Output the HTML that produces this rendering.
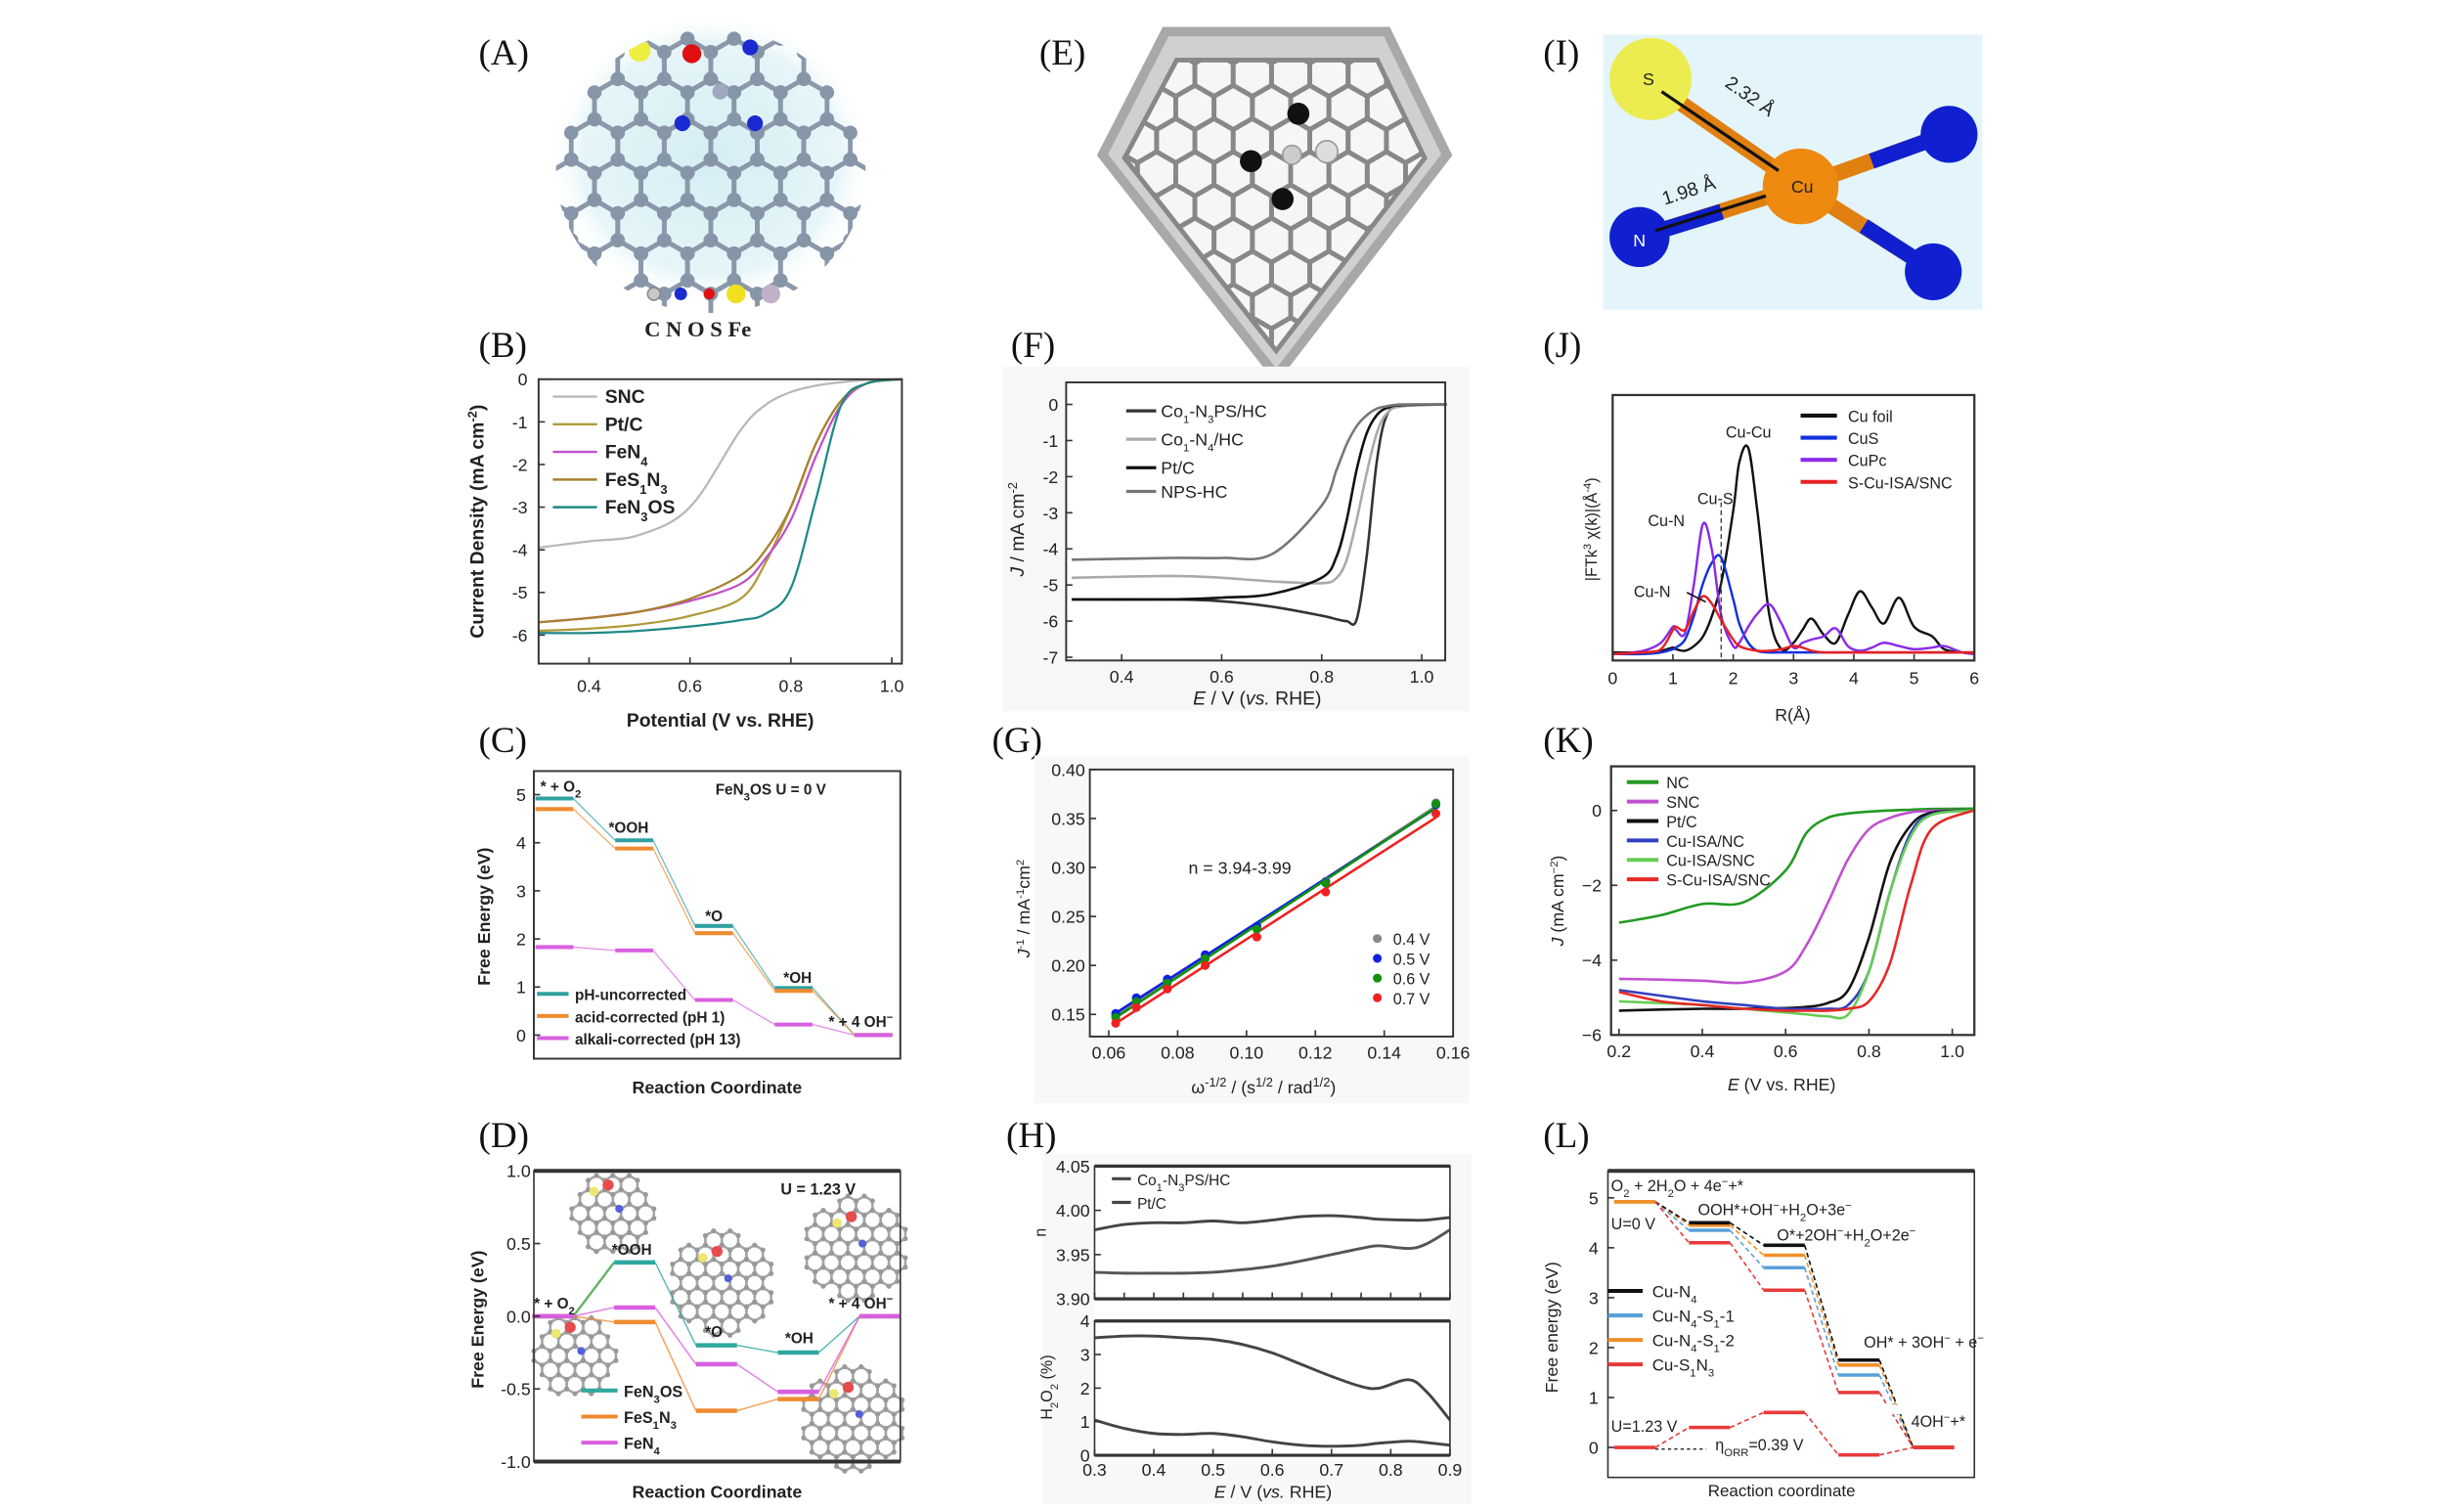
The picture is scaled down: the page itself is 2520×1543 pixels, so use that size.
<!DOCTYPE html>
<html><head><meta charset="utf-8">
<style>
html,body{margin:0;padding:0;background:#fff;}
svg{display:block;}
text{font-family:"Liberation Sans",sans-serif;fill:#222;}
.lbl{font-family:"Liberation Serif",serif;font-size:23px;fill:#111;}
</style></head>
<body>
<svg id="fig" xmlns="http://www.w3.org/2000/svg" width="2520" height="1543" viewBox="0 0 1560 955" preserveAspectRatio="none">
<defs>
<radialGradient id="glowA" cx="50%" cy="50%" r="50%"><stop offset="0%" stop-color="#d4eef4"/><stop offset="80%" stop-color="#e6f5f8"/><stop offset="100%" stop-color="#ffffff" stop-opacity="0"/></radialGradient>
<clipPath id="clipA"><ellipse cx="450" cy="108" rx="98" ry="90"/></clipPath>
<clipPath id="clipE"><polygon points="712,100 745,38 872,38 902,100 808,222"/></clipPath>
</defs>
<g>
<text class="lbl" x="303" y="41">(A)</text>
<text class="lbl" x="658" y="41">(E)</text>
<text class="lbl" x="977" y="41">(I)</text>
<text class="lbl" x="303" y="226">(B)</text>
<text class="lbl" x="640" y="226">(F)</text>
<text class="lbl" x="977" y="226">(J)</text>
<text class="lbl" x="303" y="476">(C)</text>
<text class="lbl" x="628" y="476">(G)</text>
<text class="lbl" x="977" y="476">(K)</text>
<text class="lbl" x="303" y="726">(D)</text>
<text class="lbl" x="637" y="726">(H)</text>
<text class="lbl" x="977" y="726">(L)</text>
</g>
<g id="pA">
<ellipse cx="450" cy="100" rx="102" ry="92" fill="url(#glowA)"/>
<g id="latA" clip-path="url(#clipA)"></g>
<circle cx="414" cy="186" r="4" fill="#c8c8c8" stroke="#888"/>
<circle cx="431" cy="186" r="4" fill="#1a2ad0"/>
<circle cx="449" cy="186" r="3.5" fill="#e01010"/>
<circle cx="466" cy="186" r="6" fill="#f0e020"/>
<circle cx="488" cy="186" r="6" fill="#c0b0c8"/>
<text x="408" y="213" style="font-family:'Liberation Serif',serif;font-weight:bold;font-size:14px">C N O S Fe</text>
</g>
<g id="pE">
<polygon points="698,98 738,20 878,20 916,98 808,238" fill="#d0d0d0" stroke="#a8a8a8" stroke-width="6"/>
<polygon points="712,100 745,38 872,38 902,100 808,222" fill="#f6f6f6" stroke="#888" stroke-width="3"/>
<g id="latE" clip-path="url(#clipE)"></g>
<circle cx="822" cy="72" r="7" fill="#111"/>
<circle cx="792" cy="102" r="7" fill="#111"/>
<circle cx="812" cy="126" r="7" fill="#111"/>
<circle cx="840" cy="96" r="7" fill="#ddd" stroke="#999"/>
<circle cx="818" cy="98" r="6" fill="#ccc" stroke="#999"/>
</g>
<g id="pI">
<rect x="1015" y="22" width="240" height="174" fill="#e3f5fa"/>
<line x1="1045" y1="52" x2="1140" y2="118" stroke="#e08010" stroke-width="10"/>
<line x1="1038" y1="150" x2="1140" y2="118" stroke="#e08010" stroke-width="10"/>
<line x1="1232" y1="85" x2="1140" y2="118" stroke="#e08010" stroke-width="10"/>
<line x1="1222" y1="170" x2="1140" y2="118" stroke="#e08010" stroke-width="10"/>
<line x1="1038" y1="150" x2="1090" y2="134" stroke="#1020d0" stroke-width="10"/>
<line x1="1232" y1="85" x2="1185" y2="102" stroke="#1020d0" stroke-width="10"/>
<line x1="1222" y1="170" x2="1180" y2="143" stroke="#1020d0" stroke-width="10"/>
<circle cx="1045" cy="50" r="26" fill="#ecec50"/>
<circle cx="1140" cy="118" r="24" fill="#ee8a10"/>
<circle cx="1038" cy="150" r="19" fill="#1020d0"/>
<circle cx="1234" cy="85" r="18" fill="#1020d0"/>
<circle cx="1224" cy="172" r="18" fill="#1020d0"/>
<text x="1040" y="54" font-size="11">S</text>
<text x="1134" y="122" font-size="11">Cu</text>
<text x="1034" y="156" font-size="11" fill="#fff" style="fill:#fff">N</text>
<line x1="1052" y1="58" x2="1126" y2="108" stroke="#111" stroke-width="2"/>
<line x1="1048" y1="146" x2="1118" y2="124" stroke="#111" stroke-width="2"/>
<text x="1084" y="62" font-size="12" transform="rotate(35 1100 70)">2.32 Å</text>
<text x="1052" y="126" font-size="12" transform="rotate(-18 1065 122)">1.98 Å</text>
</g>
<g id="charts"></g>
</svg>
<script>
const NS='http://www.w3.org/2000/svg';
const root=document.getElementById('charts');

/* ---------- DATA ---------- */
// Panel B
const bPot=[0.3,0.4,0.5,0.6,0.7,0.75,0.8,0.85,0.9,0.95,1.02];
const bSeriesNames=['SNC','Pt/C','FeN<tspan baseline-shift="sub" font-size="8">4</tspan>','FeS<tspan baseline-shift="sub" font-size="8">1</tspan>N<tspan baseline-shift="sub" font-size="8">3</tspan>','FeN<tspan baseline-shift="sub" font-size="8">3</tspan>OS'];
const bSNC=[-3.95,-3.8,-3.65,-3.0,-1.2,-0.6,-0.3,-0.15,-0.07,-0.02,0];
const bPtC=[-5.9,-5.85,-5.75,-5.55,-5.15,-4.3,-3.0,-1.5,-0.5,-0.1,0];
const bFeN4=[-5.7,-5.6,-5.45,-5.2,-4.8,-4.2,-3.3,-1.8,-0.6,-0.1,0];
const bFeS1N3=[-5.7,-5.6,-5.45,-5.15,-4.6,-4.0,-3.0,-1.5,-0.5,-0.1,0];
const bFeN3OS=[-5.95,-5.95,-5.9,-5.8,-5.65,-5.5,-4.9,-2.8,-0.6,-0.1,0];
// Panel F
const fPot=[0.3,0.5,0.6,0.7,0.8,0.83,0.85,0.87,0.89,0.91,0.93,0.96,1.05];
const fCoN3PS=[-5.4,-5.4,-5.45,-5.6,-5.85,-5.95,-6.0,-5.95,-4.2,-1.6,-0.3,-0.05,0];
const fCoN4=[-4.8,-4.75,-4.8,-4.9,-4.95,-4.8,-4.3,-3.2,-1.9,-0.8,-0.25,-0.05,0];
const fPtC=[-5.4,-5.4,-5.35,-5.25,-4.8,-4.2,-3.2,-1.8,-0.8,-0.3,-0.1,-0.02,0];
const fNPS=[-4.3,-4.25,-4.25,-4.15,-2.8,-1.8,-1.1,-0.6,-0.3,-0.12,-0.05,0,0];
// Panel J
const jR=[0,0.5,0.8,1.0,1.05,1.2,1.35,1.5,1.65,1.8,2.0,2.1,2.25,2.4,2.6,2.8,3.0,3.15,3.3,3.5,3.7,3.9,4.1,4.3,4.5,4.75,5.0,5.3,5.5,5.8,6.0];
const jCuFoil=[0.2,0.2,0.3,0.5,0.4,0.3,0.6,1.2,2.5,4.5,9.0,12.0,12.9,9.0,2.5,0.4,0.8,1.6,2.3,1.3,0.8,2.5,4.0,3.0,2.0,3.6,1.8,1.2,0.4,0.2,0.1];
const jCuS=[0.1,0.1,0.2,0.4,0.5,1.0,2.5,4.5,5.8,6.1,3.5,2.0,0.8,0.3,0.2,0.2,0.2,0.2,0.2,0.2,0.2,0.2,0.2,0.2,0.2,0.2,0.2,0.2,0.2,0.2,0.2];
const jCuPc=[0.1,0.3,0.8,1.8,1.6,1.4,4.5,8.2,6.5,2.5,0.6,0.8,1.8,2.6,3.2,2.0,0.5,0.8,1.0,1.2,1.7,0.6,0.3,0.5,0.8,0.6,0.4,0.5,0.6,0.2,0.1];
const jSCu=[0.1,0.2,0.4,1.6,1.8,1.6,2.8,3.7,3.2,2.2,1.0,0.6,0.4,0.3,0.3,0.4,0.6,0.5,0.3,0.2,0.2,0.2,0.2,0.2,0.2,0.2,0.2,0.2,0.2,0.2,0.2];
// Panel C
const cStates=['* + O<tspan baseline-shift="sub" font-size="7">2</tspan>','*OOH','*O','*OH','* + 4 OH<tspan baseline-shift="super" font-size="7">−</tspan>'];
const cUncorr=[4.92,4.05,2.27,0.98,0.0];
const cAcid=[4.7,3.88,2.12,0.92,0.0];
const cAlkali=[1.83,1.76,0.73,0.22,0.0];
// Panel G
const gOmega=[0.062,0.068,0.077,0.088,0.103,0.123,0.155];
const g04=[0.149,0.165,0.184,0.209,0.238,0.286,0.366];
const g05=[0.151,0.167,0.186,0.211,0.240,0.285,0.364];
const g06=[0.147,0.163,0.182,0.207,0.237,0.284,0.365];
const g07=[0.141,0.157,0.176,0.200,0.229,0.275,0.355];
const gLegend=['0.4 V','0.5 V','0.6 V','0.7 V'];
// Panel K
const kPot=[0.2,0.3,0.4,0.5,0.6,0.65,0.7,0.75,0.8,0.85,0.9,0.95,1.05];
const kNC=[-3.0,-2.8,-2.5,-2.45,-1.6,-0.6,-0.2,-0.08,-0.03,0,0.02,0.04,0.05];
const kSNC=[-4.5,-4.52,-4.55,-4.6,-4.3,-3.6,-2.5,-1.3,-0.5,-0.2,-0.05,-0.01,0];
const kPtC=[-5.35,-5.32,-5.3,-5.3,-5.28,-5.25,-5.15,-4.8,-3.4,-1.4,-0.4,-0.06,0];
const kCuNC=[-4.8,-4.95,-5.1,-5.2,-5.3,-5.3,-5.3,-5.2,-4.3,-2.2,-0.6,-0.1,0];
const kCuSNC=[-5.1,-5.15,-5.2,-5.3,-5.4,-5.45,-5.5,-5.45,-4.3,-2.2,-0.7,-0.12,0];
const kSCu=[-4.85,-5.1,-5.2,-5.3,-5.35,-5.35,-5.35,-5.3,-5.1,-4.1,-2.0,-0.5,0];
// Panel D
const dStates=['* + O<tspan baseline-shift="sub" font-size="7">2</tspan>','*OOH','*O','*OH','* + 4 OH<tspan baseline-shift="super" font-size="7">−</tspan>'];
const dFeN3OS=[0,0.37,-0.2,-0.25,0];
const dFeS1N3=[0,-0.04,-0.65,-0.57,0];
const dFeN4=[0,0.06,-0.33,-0.52,0];
// Panel H
const hPot=[0.3,0.35,0.4,0.45,0.5,0.55,0.6,0.65,0.7,0.75,0.78,0.83,0.86,0.9];
const hNCo=[3.978,3.984,3.986,3.986,3.988,3.986,3.989,3.993,3.994,3.992,3.99,3.989,3.989,3.992];
const hNPt=[3.930,3.929,3.929,3.929,3.930,3.933,3.937,3.943,3.950,3.957,3.960,3.957,3.962,3.978];
const hH2O2Pt=[3.5,3.55,3.55,3.5,3.45,3.3,3.05,2.7,2.35,2.05,2.0,2.25,1.9,1.05];
const hH2O2Co=[1.05,0.8,0.65,0.62,0.65,0.55,0.4,0.3,0.27,0.3,0.36,0.42,0.38,0.3];
// Panel L
const lCuN4=[4.92,4.5,4.05,1.75,0];
const lCuN4S1a=[4.92,4.35,3.6,1.45,0];
const lCuN4S1b=[4.92,4.45,3.85,1.65,0];
const lCuS1N3=[4.92,4.1,3.15,1.1,0];
const lU123=[0,0.4,0.7,-0.15,0];

/* ---------- HELPERS ---------- */
function mk(parent,tag,attrs,name){
  const el=document.createElementNS(NS,tag);
  for(const k in attrs) el.setAttribute(k,attrs[k]);
  
  
  parent.appendChild(el);
  return el;
}
function txt(parent,x,y,html,name,o){
  o=o||{};
  const el=mk(parent,'text',{x:x,y:y,'font-size':o.size||11,'text-anchor':o.anchor||'start','font-weight':o.bold?'bold':'normal',fill:o.fill||'#222'},name);
  if(o.rot!==undefined) el.setAttribute('transform','rotate('+o.rot+' '+x+' '+y+')');
  el.innerHTML=html;
  return el;
}
function lin(d0,d1,r0,r1){return v=>r0+(v-d0)/(d1-d0)*(r1-r0);}
function smoothPath(pts){
  let d='M'+pts[0][0].toFixed(2)+','+pts[0][1].toFixed(2);
  for(let i=0;i<pts.length-1;i++){
    const p0=pts[i-1]||pts[i],p1=pts[i],p2=pts[i+1],p3=pts[i+2]||p2;
    const c1=[p1[0]+(p2[0]-p0[0])/6,p1[1]+(p2[1]-p0[1])/6];
    const c2=[p2[0]-(p3[0]-p1[0])/6,p2[1]-(p3[1]-p1[1])/6];
    d+='C'+c1[0].toFixed(2)+','+c1[1].toFixed(2)+' '+c2[0].toFixed(2)+','+c2[1].toFixed(2)+' '+p2[0].toFixed(2)+','+p2[1].toFixed(2);
  }
  return d;
}
function curve(g,xs,ys,sx,sy,color,w,name){
  const pts=xs.map((x,i)=>[sx(x),sy(ys[i])]);
  return mk(g,'path',{d:smoothPath(pts),fill:'none',stroke:color,'stroke-width':w,'stroke-linejoin':'round'},name);
}
function frame(g,b,w){
  mk(g,'rect',{x:b.l,y:b.t,width:b.r-b.l,height:b.b-b.t,fill:'none',stroke:'#333','stroke-width':w||1.2},'plot-frame');
}
function xTicks(g,b,sx,vals,fmt,ly,name){
  vals.forEach(v=>{
    mk(g,'line',{x1:sx(v),x2:sx(v),y1:b.b,y2:b.b-4,stroke:'#333','stroke-width':1},'x-tick');
    if(ly) txt(g,sx(v),ly,fmt(v),name,{anchor:'middle'});
  });
}
function yTicks(g,b,sy,vals,fmt,lx,name){
  vals.forEach(v=>{
    mk(g,'line',{x1:b.l,x2:b.l+4,y1:sy(v),y2:sy(v),stroke:'#333','stroke-width':1},'y-tick');
    txt(g,lx,sy(v)+4,fmt(v),name,{anchor:'end'});
  });
}
function honey(g,cx,cy,R,a,stroke,sw,dots,dotColor){
  for(let j=-12;j<=12;j++)for(let i=-12;i<=12;i++){
    const hx=cx+a*Math.sqrt(3)*(i+j/2), hy=cy+a*1.5*j;
    if(Math.hypot(hx-cx,hy-cy)>R) continue;
    let p=[];
    for(let k=0;k<6;k++){const an=Math.PI/3*k+Math.PI/6;p.push([hx+a*Math.cos(an),hy+a*Math.sin(an)]);}
    mk(g,'polygon',{points:p.map(q=>q.join(',')).join(' '),fill:'none',stroke:stroke,'stroke-width':sw},'hex-ring');
    if(dots) p.forEach(q=>mk(g,'circle',{cx:q[0],cy:q[1],r:dots,fill:dotColor},'carbon-atom'));
  }
}
function fmt1(v){return v.toFixed(1);}
function fmt0(v){return String(v).replace('-','-');}

/* ---------- structure lattices ---------- */
honey(document.getElementById('latA'),450,118,95,17,'#8a98aa',3,4.5,'#8795a8');
(function(){
  const g=document.getElementById('latA');
  mk(g,'circle',{cx:405,cy:32,r:7,fill:'#eeee40'},'sulfur-atom');
  mk(g,'circle',{cx:438,cy:34,r:6,fill:'#e01010'},'oxygen-atom');
  mk(g,'circle',{cx:475,cy:30,r:5,fill:'#1a2ad0'},'nitrogen-atom-top');
  mk(g,'circle',{cx:432,cy:78,r:5,fill:'#1a2ad0'},'nitrogen-atom-left');
  mk(g,'circle',{cx:478,cy:78,r:5,fill:'#1a2ad0'},'nitrogen-atom-right');
  mk(g,'circle',{cx:456,cy:58,r:5,fill:'#a0a8c0'},'iron-atom');
})();
honey(document.getElementById('latE'),805,110,130,14,'#888',3,0,'');

/* ---------- PANEL B ---------- */
(function(){
  const g=mk(root,'g',{},'panel-b-lsv');
  const b={l:341,r:571,t:240,b:420};
  const sx=lin(0.3,1.02,b.l,b.r), sy=lin(-6.67,0,b.b,b.t);
  const cols=['#b8b8b8','#b09a38','#c050c8','#a88030','#208888'];
  const ser=[bSNC,bPtC,bFeN4,bFeS1N3,bFeN3OS];
  ser.forEach((s,i)=>curve(g,bPot,s,sx,sy,cols[i],1.4,'lsv-curve-'+i));
  frame(g,b,1.2);
  xTicks(g,b,sx,[0.4,0.6,0.8,1.0],fmt1,438,'x-tick-label');
  yTicks(g,b,sy,[0,-1,-2,-3,-4,-5,-6],fmt0,334,'y-tick-label');
  txt(g,456,460,'Potential (V vs. RHE)','x-axis-title',{bold:true,size:12,anchor:'middle'});
  txt(g,306,330,'Current Density (mA cm<tspan baseline-shift="super" font-size="8">-2</tspan>)','y-axis-title',{bold:true,size:12,anchor:'middle',rot:-90});
  bSeriesNames.forEach((n,i)=>{
    const y=251+i*17.5;
    mk(g,'line',{x1:350,x2:378,y1:y,y2:y,stroke:cols[i],'stroke-width':1.5},'legend-swatch');
    txt(g,383,y+4,n,'legend-entry',{bold:true,size:12});
  });
})();

/* ---------- PANEL F ---------- */
(function(){
  const g=mk(root,'g',{},'panel-f-lsv');
  const b={l:675,r:915,t:242,b:418};
  mk(g,'rect',{x:635,y:232,width:295,height:218,fill:'#f7f7f7'},'panel-f-background');
  mk(g,'rect',{x:b.l,y:b.t,width:b.r-b.l,height:b.b-b.t,fill:'#fff'},'plot-background');
  const sx=lin(0.289,1.047,b.l,b.r), sy=lin(-7.09,0.61,b.b,b.t);
  const cols=['#333','#aaa','#111','#777'];
  [fCoN3PS,fCoN4,fPtC,fNPS].forEach((s,i)=>curve(g,fPot,s,sx,sy,cols[i],1.6,'lsv-curve-'+i));
  frame(g,b,1.2);
  xTicks(g,b,sx,[0.4,0.6,0.8,1.0],fmt1,432,'x-tick-label');
  yTicks(g,b,sy,[0,-1,-2,-3,-4,-5,-6,-7],fmt0,670,'y-tick-label');
  txt(g,796,446,'<tspan font-style="italic">E</tspan> / V (<tspan font-style="italic">vs.</tspan> RHE)','x-axis-title',{size:12,anchor:'middle'});
  txt(g,648,335,'<tspan font-style="italic">J</tspan> / mA cm<tspan baseline-shift="super" font-size="8">-2</tspan>','y-axis-title',{size:12,anchor:'middle',rot:-90});
  const names=['Co<tspan baseline-shift="sub" font-size="7">1</tspan>-N<tspan baseline-shift="sub" font-size="7">3</tspan>PS/HC','Co<tspan baseline-shift="sub" font-size="7">1</tspan>-N<tspan baseline-shift="sub" font-size="7">4</tspan>/HC','Pt/C','NPS-HC'];
  names.forEach((n,i)=>{
    const y=[260,278,296,311][i];
    mk(g,'line',{x1:713,x2:732,y1:y,y2:y,stroke:cols[i],'stroke-width':2},'legend-swatch');
    txt(g,735,y+4,n,'legend-entry',{size:11});
  });
})();

/* ---------- PANEL J ---------- */
(function(){
  const g=mk(root,'g',{},'panel-j-exafs');
  const b={l:1021,r:1250,t:250,b:418};
  const sx=lin(0,6,b.l,b.r), sy=lin(-0.3,16.2,b.b,b.t);
  const cols=['#111','#1030e0','#8a2be8','#e82020'];
  [jCuFoil,jCuS,jCuPc,jSCu].forEach((s,i)=>curve(g,jR,s,sx,sy,cols[i],1.5,'ft-curve-'+i));
  mk(g,'line',{x1:sx(1.8),x2:sx(1.8),y1:318,y2:b.b,stroke:'#333','stroke-width':0.8,'stroke-dasharray':'3,2'},'cu-s-marker-line');
  frame(g,b,1.4);
  xTicks(g,b,sx,[0,1,2,3,4,5,6],v=>String(v),433,'x-tick-label');
  txt(g,1135,456,'R(Å)','x-axis-title',{size:11,anchor:'middle'});
  txt(g,1011,335,'|FTk<tspan baseline-shift="super" font-size="7">3</tspan> χ(k)|(Å<tspan baseline-shift="super" font-size="7">-4</tspan>)','y-axis-title',{size:10,anchor:'middle',rot:-90});
  txt(g,1107,277,'Cu-Cu','annotation-cu-cu',{size:10,anchor:'middle'});
  txt(g,1086,319,'Cu-S','annotation-cu-s',{size:10,anchor:'middle'});
  txt(g,1055,333,'Cu-N','annotation-cu-n-1',{size:10,anchor:'middle'});
  txt(g,1046,378,'Cu-N','annotation-cu-n-2',{size:10,anchor:'middle'});
  mk(g,'line',{x1:1068,x2:1080,y1:375,y2:381,stroke:'#111','stroke-width':1},'annotation-arrow');
  const names=['Cu foil','CuS','CuPc','S-Cu-ISA/SNC'];
  names.forEach((n,i)=>{
    const y=263+i*14;
    mk(g,'line',{x1:1140,x2:1163,y1:y,y2:y,stroke:cols[i],'stroke-width':2.5},'legend-swatch');
    txt(g,1170,y+4,n,'legend-entry',{size:10});
  });
})();

/* ---------- PANEL C ---------- */
(function(){
  const g=mk(root,'g',{},'panel-c-free-energy');
  const b={l:338,r:570,t:488,b:670};
  const sy=lin(-0.49,5.49,b.b,b.t);
  const cx=i=>351+i*50.5, hw=12;
  const cols=['#30a0a0','#f08a30','#d860e0'];
  [cUncorr,cAcid,cAlkali].forEach((s,k)=>{
    s.forEach((v,i)=>{
      mk(g,'line',{x1:cx(i)-hw,x2:cx(i)+hw,y1:sy(v),y2:sy(v),stroke:cols[k],'stroke-width':2.5},'energy-level');
      if(i<s.length-1) mk(g,'line',{x1:cx(i)+hw,x2:cx(i+1)-hw,y1:sy(v),y2:sy(s[i+1]),stroke:cols[k],'stroke-width':0.8,opacity:0.7},'energy-connector');
    });
  });
  frame(g,b,1.2);
  yTicks(g,b,sy,[0,1,2,3,4,5],v=>String(v),333,'y-tick-label');
  txt(g,454,692,'Reaction Coordinate','x-axis-title',{bold:true,size:11,anchor:'middle'});
  txt(g,310,580,'Free Energy (eV)','y-axis-title',{bold:true,size:11,anchor:'middle',rot:-90});
  const lp=[[355,501],[398,527],[452,583],[505,622],[545,650]];
  cStates.forEach((s,i)=>txt(g,lp[i][0],lp[i][1],s,'state-label',{bold:true,size:9.5,anchor:'middle'}));
  txt(g,488,503,'FeN<tspan baseline-shift="sub" font-size="7">3</tspan>OS  U = 0 V','condition-label',{bold:true,size:9.5,anchor:'middle'});
  ['pH-uncorrected','acid-corrected (pH 1)','alkali-corrected (pH 13)'].forEach((n,i)=>{
    const y=629+i*14;
    mk(g,'line',{x1:340,x2:360,y1:y,y2:y,stroke:cols[i],'stroke-width':2.5},'legend-swatch');
    txt(g,364,y+4,n,'legend-entry',{bold:true,size:9.5});
  });
})();

/* ---------- PANEL G ---------- */
(function(){
  const g=mk(root,'g',{},'panel-g-kl-plot');
  const b={l:690,r:920,t:487,b:656};
  mk(g,'rect',{x:655,y:478,width:275,height:220,fill:'#f8f8f8'},'panel-g-background');
  mk(g,'rect',{x:b.l,y:b.t,width:b.r-b.l,height:b.b-b.t,fill:'#fff'},'plot-background');
  const sx=lin(0.0545,0.16,b.l,b.r), sy=lin(0.1274,0.40,b.b,b.t);
  const cols=['#888','#1020e0','#109010','#f02020'];
  [g04,g05,g06,g07].forEach((s,k)=>{
    const n=gOmega.length, mx=gOmega.reduce((a,c)=>a+c,0)/n, my=s.reduce((a,c)=>a+c,0)/n;
    let sxy=0,sxx=0; gOmega.forEach((x,i)=>{sxy+=(x-mx)*(s[i]-my);sxx+=(x-mx)*(x-mx);});
    const m=sxy/sxx, c=my-m*mx, x0=gOmega[0], x1=gOmega[n-1];
    mk(g,'line',{x1:sx(x0),y1:sy(m*x0+c),x2:sx(x1),y2:sy(m*x1+c),stroke:cols[k],'stroke-width':1.6},'fit-line');
  });
  [g04,g05,g06,g07].forEach((s,k)=>s.forEach((v,i)=>mk(g,'circle',{cx:sx(gOmega[i]),cy:sy(v),r:2.8,fill:cols[k]},'data-point')));
  frame(g,b,1.2);
  xTicks(g,b,sx,[0.06,0.08,0.10,0.12,0.14,0.16],v=>v.toFixed(2),670,'x-tick-label');
  yTicks(g,b,sy,[0.15,0.20,0.25,0.30,0.35,0.40],v=>v.toFixed(2),687,'y-tick-label');
  txt(g,800,692,'ω<tspan baseline-shift="super" font-size="8">-1/2</tspan> / (s<tspan baseline-shift="super" font-size="8">1/2</tspan> / rad<tspan baseline-shift="super" font-size="8">1/2</tspan>)','x-axis-title',{size:11,anchor:'middle'});
  txt(g,652,575,'<tspan font-style="italic">J</tspan><tspan baseline-shift="super" font-size="7">-1</tspan> / mA<tspan baseline-shift="super" font-size="7">-1</tspan>cm<tspan baseline-shift="super" font-size="7">2</tspan>','y-axis-title',{size:11,anchor:'middle',rot:-90});
  txt(g,785,553,'n = 3.94-3.99','annotation-n',{size:11,anchor:'middle'});
  gLegend.forEach((n,i)=>{
    const y=594+i*12.5;
    mk(g,'circle',{cx:872,cy:y,r:2.8,fill:cols[i]},'legend-marker');
    txt(g,882,y+4,n,'legend-entry',{size:10});
  });
})();

/* ---------- PANEL K ---------- */
(function(){
  const g=mk(root,'g',{},'panel-k-lsv');
  const b={l:1020,r:1250,t:485,b:655};
  const sx=lin(0.181,1.053,b.l,b.r), sy=lin(-6,1.18,b.b,b.t);
  const cols=['#229922','#c050d0','#111','#3040c0','#66cc55','#e82828'];
  [kNC,kSNC,kPtC,kCuNC,kCuSNC,kSCu].forEach((s,i)=>curve(g,kPot,s,sx,sy,cols[i],1.6,'lsv-curve-'+i));
  frame(g,b,1.4);
  xTicks(g,b,sx,[0.2,0.4,0.6,0.8,1.0],fmt1,669,'x-tick-label');
  yTicks(g,b,sy,[0,-2,-4,-6],v=>String(v).replace('-','−'),1014,'y-tick-label');
  txt(g,1128,690,'<tspan font-style="italic">E</tspan> (V vs. RHE)','x-axis-title',{size:11,anchor:'middle'});
  txt(g,990,570,'<tspan font-style="italic">J</tspan> (mA cm<tspan baseline-shift="super" font-size="7">−2</tspan>)','y-axis-title',{size:11,anchor:'middle',rot:-90});
  ['NC','SNC','Pt/C','Cu-ISA/NC','Cu-ISA/SNC','S-Cu-ISA/SNC'].forEach((n,i)=>{
    const y=495+i*12.3;
    mk(g,'line',{x1:1030,x2:1050,y1:y,y2:y,stroke:cols[i],'stroke-width':2.5},'legend-swatch');
    txt(g,1055,y+4,n,'legend-entry',{size:10});
  });
})();

/* ---------- PANEL D ---------- */
(function(){
  const g=mk(root,'g',{},'panel-d-free-energy');
  const b={l:338,r:570,t:741,b:925};
  const sy=lin(-1,1,b.b,b.t);
  const cx=i=>350+i*51.8, hw=13;
  const cols=['#30a8a0','#f08a30','#d860e0'];
  [[388,768,26],[457,812,28],[542,790,28],[364,858,26],[540,898,28]].forEach(m=>{
    const mg=mk(g,'g',{opacity:0.75},'molecule-image');
    honey(mg,m[0],m[1],m[2],6,'#888',1.6,1.6,'#777');
    mk(mg,'circle',{cx:m[0]-3,cy:m[1]-m[2]+8,r:3.5,fill:'#e01010'},'oxygen-atom');
    mk(mg,'circle',{cx:m[0]+4,cy:m[1]-3,r:2.5,fill:'#1a2ad0'},'nitrogen-atom');
    mk(mg,'circle',{cx:m[0]-12,cy:m[1]-m[2]+12,r:3,fill:'#e8e040'},'sulfur-atom');
  });
  [dFeN3OS,dFeS1N3,dFeN4].forEach((s,k)=>{
    s.forEach((v,i)=>{
      mk(g,'line',{x1:cx(i)-hw,x2:cx(i)+hw,y1:sy(v),y2:sy(v),stroke:cols[k],'stroke-width':2.8},'energy-level');
      if(i<s.length-1) mk(g,'line',{x1:cx(i)+hw,x2:cx(i+1)-hw,y1:sy(v),y2:sy(s[i+1]),stroke:k===0&&i===0?'#40a040':cols[k],'stroke-width':k===0&&i===0?1.5:0.9,opacity:0.8},'energy-connector');
    });
  });
  mk(g,'line',{x1:b.l,x2:b.r,y1:b.t,y2:b.t,stroke:'#333','stroke-width':2.5},'top-border');
  mk(g,'line',{x1:b.l,x2:b.r,y1:b.b,y2:b.b,stroke:'#333','stroke-width':2.5},'bottom-border');
  frame(g,b,1);
  yTicks(g,b,sy,[1.0,0.5,0.0,-0.5,-1.0],fmt1,336,'y-tick-label');
  txt(g,454,948,'Reaction Coordinate','x-axis-title',{bold:true,size:11,anchor:'middle'});
  txt(g,306,835,'Free Energy (eV)','y-axis-title',{bold:true,size:11,anchor:'middle',rot:-90});
  const lp=[[351,828],[400,794],[452,846],[506,850],[545,828]];
  dStates.forEach((s,i)=>txt(g,lp[i][0],lp[i][1],s,'state-label',{bold:true,size:9.5,anchor:'middle'}));
  txt(g,518,756,'U = 1.23 V','condition-label',{bold:true,size:10,anchor:'middle'});
  ['FeN<tspan baseline-shift="sub" font-size="7">3</tspan>OS','FeS<tspan baseline-shift="sub" font-size="7">1</tspan>N<tspan baseline-shift="sub" font-size="7">3</tspan>','FeN<tspan baseline-shift="sub" font-size="7">4</tspan>'].forEach((n,i)=>{
    const y=880+i*16.5;
    mk(g,'line',{x1:368,x2:391,y1:y,y2:y,stroke:cols[i],'stroke-width':2.5},'legend-swatch');
    txt(g,395,y+4,n,'legend-entry',{bold:true,size:10});
  });
})();

/* ---------- PANEL H ---------- */
(function(){
  const g=mk(root,'g',{},'panel-h-rrde');
  const bt={l:693,r:918,t:738,b:822}, bb={l:693,r:918,t:836,b:921};
  mk(g,'rect',{x:660,y:730,width:272,height:222,fill:'#f8f8f8'},'panel-h-background');
  mk(g,'rect',{x:bt.l,y:bt.t,width:bt.r-bt.l,height:bb.b-bt.t,fill:'#fff'},'plot-background');
  const sx=lin(0.3,0.9,bt.l,bt.r);
  const syT=lin(3.90,4.05,bt.b,bt.t), syB=lin(0,4,bb.b,bb.t);
  curve(g,hPot,hNCo,sx,syT,'#444',1.8,'n-curve-co');
  curve(g,hPot,hNPt,sx,syT,'#555',1.8,'n-curve-pt');
  curve(g,hPot,hH2O2Pt,sx,syB,'#444',1.8,'h2o2-curve-pt');
  curve(g,hPot,hH2O2Co,sx,syB,'#444',1.8,'h2o2-curve-co');
  [bt,bb].forEach(b=>{
    frame(g,b,1);
    mk(g,'line',{x1:b.l,x2:b.r,y1:b.t,y2:b.t,stroke:'#333','stroke-width':2},'top-border');
    mk(g,'line',{x1:b.l,x2:b.r,y1:b.b,y2:b.b,stroke:'#333','stroke-width':2},'bottom-border');
  });
  xTicks(g,bt,sx,[0.3,0.35,0.4,0.45,0.5,0.55,0.6,0.65,0.7,0.75,0.8,0.85,0.9],fmt1,0,'x-tick');
  xTicks(g,bb,sx,[0.3,0.4,0.5,0.6,0.7,0.8,0.9],fmt1,934,'x-tick-label');
  yTicks(g,bt,syT,[3.90,3.95,4.00,4.05],v=>v.toFixed(2),690,'y-tick-label-n');
  yTicks(g,bb,syB,[0,1,2,3,4],v=>String(v),690,'y-tick-label-h2o2');
  txt(g,806,948,'<tspan font-style="italic">E</tspan> / V (<tspan font-style="italic">vs.</tspan> RHE)','x-axis-title',{size:11,anchor:'middle'});
  txt(g,662,780,'n','y-axis-title-n',{size:10,anchor:'middle',rot:-90});
  txt(g,666,878,'H<tspan baseline-shift="sub" font-size="7">2</tspan>O<tspan baseline-shift="sub" font-size="7">2</tspan> (%)','y-axis-title-h2o2',{size:10,anchor:'middle',rot:-90});
  ['Co<tspan baseline-shift="sub" font-size="7">1</tspan>-N<tspan baseline-shift="sub" font-size="7">3</tspan>PS/HC','Pt/C'].forEach((n,i)=>{
    const y=746+i*15;
    mk(g,'line',{x1:704,x2:716,y1:y,y2:y,stroke:'#444','stroke-width':2},'legend-swatch');
    txt(g,720,y+4,n,'legend-entry',{size:9.5});
  });
})();

/* ---------- PANEL L ---------- */
(function(){
  const g=mk(root,'g',{},'panel-l-free-energy');
  const b={l:1018,r:1250,t:741,b:935};
  const sy=lin(-0.6,5.54,b.b,b.t);
  const cx=i=>1035+i*47.3, hw=13;
  const cols=['#111','#5aa0d8','#f0902a','#e83a3a'];
  [lCuN4S1a,lCuN4S1b,lCuN4,lCuS1N3].forEach((s,kk)=>{
    const k=[1,2,0,3][kk];
    s.forEach((v,i)=>{
      mk(g,'line',{x1:cx(i)-hw,x2:cx(i)+hw,y1:sy(v),y2:sy(v),stroke:i===0?'#f0902a':(i===4?'#e83a3a':cols[k]),'stroke-width':2.2},'energy-level');
      if(i<s.length-1) mk(g,'line',{x1:cx(i)+hw,x2:cx(i+1)-hw,y1:sy(v),y2:sy(s[i+1]),stroke:cols[k],'stroke-width':1,'stroke-dasharray':'3,2'},'energy-connector');
    });
  });
  lU123.forEach((v,i)=>{
    mk(g,'line',{x1:cx(i)-hw,x2:cx(i)+hw,y1:sy(v),y2:sy(v),stroke:'#e83a3a','stroke-width':2.2},'energy-level-u123');
    if(i<lU123.length-1) mk(g,'line',{x1:cx(i)+hw,x2:cx(i+1)-hw,y1:sy(v),y2:sy(lU123[i+1]),stroke:'#e83a3a','stroke-width':1,'stroke-dasharray':'3,2'},'energy-connector-u123');
  });
  mk(g,'line',{x1:cx(0)+hw,x2:cx(1)-2,y1:sy(0)+1,y2:sy(0)+1,stroke:'#333','stroke-width':1,'stroke-dasharray':'2,2'},'eta-baseline');
  mk(g,'line',{x1:b.l,x2:b.r,y1:b.t,y2:b.t,stroke:'#333','stroke-width':2.5},'top-border');
  frame(g,b,1);
  yTicks(g,b,sy,[0,1,2,3,4,5],v=>String(v),1012,'y-tick-label');
  txt(g,1128,947,'Reaction coordinate','x-axis-title',{size:10.5,anchor:'middle'});
  txt(g,986,840,'Free energy (eV)','y-axis-title',{size:11,anchor:'middle',rot:-90});
  const sub=s=>'<tspan baseline-shift="sub" font-size="7">'+s+'</tspan>', sup=s=>'<tspan baseline-shift="super" font-size="7">'+s+'</tspan>';
  txt(g,1020,754,'O'+sub('2')+' + 2H'+sub('2')+'O + 4e'+sup('−')+'+*','state-label',{size:10});
  txt(g,1075,769,'OOH*+OH'+sup('−')+'+H'+sub('2')+'O+3e'+sup('−'),'state-label',{size:10});
  txt(g,1020,778,'U=0 V','condition-label-u0',{size:10});
  txt(g,1125,785,'O*+2OH'+sup('−')+'+H'+sub('2')+'O+2e'+sup('−'),'state-label',{size:10});
  txt(g,1180,853,'OH* + 3OH'+sup('−')+' + e'+sup('−'),'state-label',{size:10});
  mk(g,'rect',{x:1150,y:889,width:55,height:6,fill:'#fff'},'label-mask');
  txt(g,1210,903,'4OH'+sup('−')+'+*','state-label',{size:10});
  txt(g,1020,906,'U=1.23 V','condition-label-u123',{size:10});
  txt(g,1086,918,'η'+sub('ORR')+'=0.39 V','eta-label',{size:10});
  ['Cu-N'+sub('4'),'Cu-N'+sub('4')+'-S'+sub('1')+'-1','Cu-N'+sub('4')+'-S'+sub('1')+'-2','Cu-S'+sub('1')+'N'+sub('3')].forEach((n,i)=>{
    const y=817+i*15.5;
    mk(g,'line',{x1:1018,x2:1040,y1:y,y2:y,stroke:cols[i],'stroke-width':2.5},'legend-swatch');
    txt(g,1046,y+4,n,'legend-entry',{size:10.5});
  });
})();
</script>
</body></html>
